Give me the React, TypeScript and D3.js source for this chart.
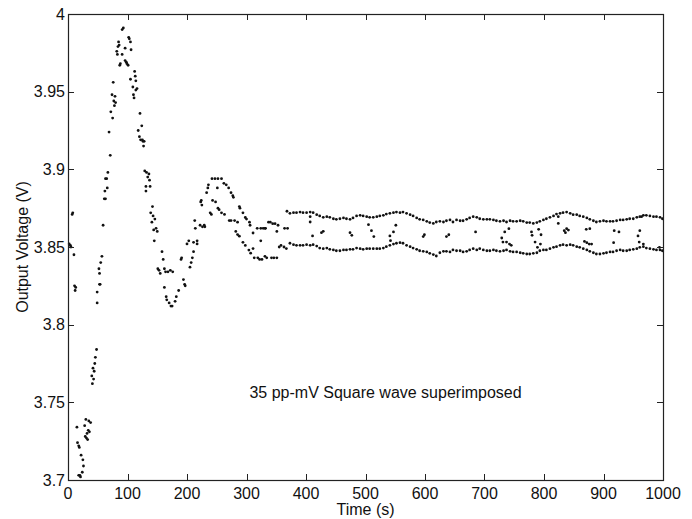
import React from "react";
import * as d3 from "d3";

// ---- axis ticks ----
const xTicks = [0, 100, 200, 300, 400, 500, 600, 700, 800, 900, 1000];
const yTicks = [3.7, 3.75, 3.8, 3.85, 3.9, 3.95, 4];
const yTickLabels = ["3.7", "3.75", "3.8", "3.85", "3.9", "3.95", "4"];

const xLabel = "Time (s)";
const yLabel = "Output Voltage (V)";
const annotation = "35 pp-mV Square wave superimposed";

// ---- start-up transient (time s, voltage V) ----
const startupPoints: [number, number][] = [
  [2, 3.852], [4, 3.851], [5, 3.85], [7, 3.871], [8, 3.872], [10, 3.845], [11, 3.825], [12, 3.822], [13, 3.824],
  [15, 3.734], [16, 3.724], [18, 3.722], [19, 3.721], [18, 3.703], [20, 3.703], [21, 3.702], [22, 3.716], [24, 3.705], [25, 3.713], [26, 3.709],
  [28, 3.735], [29, 3.728], [30, 3.739], [31, 3.727], [32, 3.73], [33, 3.726], [34, 3.732], [35, 3.738], [36, 3.731], [38, 3.737],
  [40, 3.767], [41, 3.762], [42, 3.772], [43, 3.765], [44, 3.77], [45, 3.775], [46, 3.779], [48, 3.784],
  [49, 3.814], [49, 3.821], [53, 3.826], [54, 3.826], [53, 3.833], [55, 3.84], [52, 3.836], [57, 3.844],
  [59, 3.864], [61, 3.881], [63, 3.881], [62, 3.886], [63, 3.894], [65, 3.894], [66, 3.888], [67, 3.898], [69, 3.924], [71, 3.909],
  [72, 3.937], [74, 3.948], [75, 3.933], [76, 3.956], [77, 3.944], [78, 3.941], [79, 3.947], [80, 3.943],
  [82, 3.976], [83, 3.974], [84, 3.979], [85, 3.982], [86, 3.98], [87, 3.967], [88, 3.968], [91, 3.974], [91, 3.99], [93, 3.991],
  [96, 3.978], [96, 3.97], [98, 3.969], [99, 3.968], [101, 3.967], [102, 3.985], [103, 3.984], [105, 3.982], [105, 3.958], [106, 3.977],
  [109, 3.953], [110, 3.948], [111, 3.946], [112, 3.963], [113, 3.96], [114, 3.957], [114, 3.951], [116, 3.952],
  [118, 3.925], [120, 3.921], [121, 3.936], [122, 3.919], [124, 3.928], [125, 3.919], [126, 3.918], [127, 3.915], [128, 3.918],
  [129, 3.899], [131, 3.889], [131, 3.886], [132, 3.898], [134, 3.895], [136, 3.897], [137, 3.893], [138, 3.889],
  [139, 3.872], [141, 3.866], [142, 3.876], [143, 3.87], [144, 3.861], [145, 3.854], [146, 3.868], [148, 3.862], [150, 3.86],
];

// ---- settling (undershoot / overshoot) ----
const settlingPoints: [number, number][] = [
  [151, 3.836], [153, 3.835], [155, 3.833], [158, 3.847], [160, 3.842], [162, 3.836], [162, 3.824], [164, 3.834], [165, 3.818],
  [166, 3.816], [168, 3.834], [170, 3.814], [172, 3.835], [173, 3.812], [175, 3.812], [176, 3.834], [180, 3.815], [182, 3.818],
  [186, 3.822], [190, 3.842], [191, 3.843], [194, 3.829], [196, 3.826], [197, 3.825], [200, 3.852], [203, 3.854], [205, 3.837],
  [207, 3.84], [209, 3.843], [211, 3.853], [211, 3.847], [213, 3.867], [214, 3.862], [217, 3.854], [217, 3.852], [222, 3.864],
  [223, 3.879], [224, 3.88], [225, 3.877], [226, 3.863], [229, 3.864], [230, 3.863], [233, 3.885], [235, 3.888], [236, 3.89],
  [239, 3.872], [241, 3.871], [242, 3.894], [243, 3.88], [247, 3.894], [248, 3.879], [251, 3.888], [252, 3.894], [252, 3.875],
  [254, 3.874], [258, 3.894], [258, 3.872], [262, 3.891], [263, 3.871], [266, 3.89], [270, 3.888], [271, 3.867], [274, 3.867],
  [274, 3.885], [277, 3.883], [278, 3.882], [280, 3.867], [282, 3.86], [285, 3.866], [285, 3.858], [288, 3.857], [288, 3.876],
  [289, 3.875], [294, 3.872], [294, 3.853], [298, 3.869], [298, 3.851], [300, 3.868], [304, 3.848], [305, 3.866], [306, 3.864],
  [307, 3.846], [311, 3.849], [311, 3.859], [313, 3.843], [318, 3.862], [319, 3.843], [322, 3.842], [324, 3.854], [324, 3.862],
  [326, 3.842], [328, 3.862], [331, 3.862], [331, 3.844], [332, 3.862], [334, 3.843], [337, 3.866], [340, 3.866], [342, 3.843],
  [344, 3.865], [346, 3.843], [348, 3.865], [351, 3.843], [351, 3.86], [353, 3.864], [355, 3.85], [358, 3.851], [363, 3.85],
  [364, 3.862], [367, 3.849], [368, 3.873], [369, 3.862],
];

// ---- steady state: the two square-wave levels ----
const bandTime = [
  373, 379, 384, 390, 395, 401, 407, 412, 418, 423, 429, 435, 440, 446, 451, 457, 463, 468, 474, 479,
  485, 491, 496, 502, 507, 513, 519, 524, 530, 535, 541, 547, 552, 558, 563, 569, 575, 580, 586, 591,
  597, 603, 608, 614, 619, 625, 631, 636, 642, 647, 653, 659, 664, 670, 675, 681, 687,
  692, 698, 704, 709, 715, 720, 726, 732, 737, 743, 748, 754, 760, 765, 771, 776, 782, 788, 793, 799,
  804, 810, 816, 821, 827, 832, 838, 844, 849, 855, 860, 866, 872, 877, 883, 888, 894, 900, 905, 911,
  916, 922, 928, 933, 939, 944, 950, 956, 961, 967, 972, 978, 984, 989, 995, 999,
];
const upperLevel = [
  3.8717, 3.8721, 3.8721, 3.8725, 3.8721, 3.8721, 3.8725, 3.8721, 3.8708, 3.87, 3.8691, 3.8695, 3.8691, 3.8682, 3.8678, 3.8682,
  3.8687, 3.8682, 3.8678, 3.8687, 3.87, 3.8704, 3.87, 3.8695, 3.8691, 3.8691, 3.8695, 3.87, 3.8704, 3.8712, 3.8717, 3.8721,
  3.8725, 3.8721, 3.8725, 3.8717, 3.8708, 3.87, 3.8687, 3.8678, 3.8674, 3.8665, 3.8657, 3.8652, 3.8661, 3.8665, 3.8661, 3.8669,
  3.8674, 3.8661, 3.8674, 3.8669, 3.8669, 3.8678, 3.8687, 3.8695, 3.8691,
  3.8682, 3.8678, 3.8678, 3.8678, 3.8674, 3.8669, 3.8665, 3.8669, 3.8661, 3.8669, 3.8665, 3.8665, 3.8669, 3.8665, 3.8657, 3.8657,
  3.8652, 3.8657, 3.8665, 3.8674, 3.8682, 3.8691, 3.87, 3.8712, 3.8717, 3.8721, 3.8725, 3.8717, 3.8708, 3.8708, 3.87, 3.8695,
  3.8687, 3.8678, 3.8669, 3.8661, 3.8665, 3.8669, 3.8665, 3.8665, 3.8665, 3.8669, 3.8674, 3.8674, 3.8678, 3.8682, 3.8682, 3.8691,
  3.8695, 3.8704, 3.8704, 3.87, 3.8695, 3.8695, 3.8691, 3.8682,
];
const lowerLevel = [
  3.8524, 3.8515, 3.8511, 3.8511, 3.8511, 3.8515, 3.8511, 3.8515, 3.8506, 3.8493, 3.8489, 3.8493, 3.8485, 3.8481, 3.8476, 3.8476,
  3.8481, 3.8481, 3.8485, 3.8485, 3.8493, 3.8489, 3.8485, 3.8489, 3.8489, 3.8489, 3.8489, 3.8489, 3.8493, 3.8502, 3.8511, 3.8519,
  3.8524, 3.8528, 3.8524, 3.8511, 3.8502, 3.8493, 3.8485, 3.8476, 3.8472, 3.8468, 3.8459, 3.8451, 3.8442, 3.8463, 3.8472, 3.8472,
  3.8468, 3.8481, 3.8476, 3.8476, 3.8468, 3.8472, 3.8481, 3.8489, 3.8481,
  3.8489, 3.8481, 3.8476, 3.8476, 3.8481, 3.8476, 3.8472, 3.8476, 3.8481, 3.8472, 3.8468, 3.8468, 3.8463, 3.8459, 3.8455, 3.8455,
  3.8459, 3.8463, 3.8476, 3.8481, 3.8481, 3.8489, 3.8498, 3.8502, 3.8511, 3.8515, 3.8511, 3.8515, 3.8511, 3.8502, 3.8498, 3.8489,
  3.8481, 3.8472, 3.8463, 3.8455, 3.8455, 3.8459, 3.8463, 3.8468, 3.8468, 3.8476, 3.8481, 3.8476, 3.8476, 3.8481, 3.8485, 3.8489,
  3.8498, 3.8502, 3.8493, 3.8489, 3.8485, 3.8481, 3.8481, 3.8476,
];

// ---- samples caught during the square-wave edges ----
const switchPoints: [number, number][] = [
  [407, 3.8695], [407, 3.8661], [411, 3.8571], [426, 3.8592], [429, 3.8601], [474, 3.8592], [477, 3.8575], [505, 3.8644],
  [510, 3.8605], [514, 3.8567], [541, 3.8571], [542, 3.8541], [547, 3.8597], [551, 3.864], [597, 3.8567], [599, 3.8579],
  [636, 3.8567], [640, 3.8579], [685, 3.8597], [729, 3.8558], [734, 3.8597], [731, 3.8532], [737, 3.8532], [741, 3.8618],
  [742, 3.8519], [745, 3.8511], [779, 3.8597], [780, 3.8575], [785, 3.8532], [789, 3.8498], [791, 3.8614], [795, 3.8579],
  [794, 3.8519], [824, 3.8695], [824, 3.8652], [834, 3.8605], [838, 3.8618], [841, 3.8609], [836, 3.8592], [868, 3.8536],
  [872, 3.8528], [871, 3.8614], [877, 3.8618], [876, 3.8519], [880, 3.8519], [917, 3.8528], [918, 3.8605], [926, 3.8597],
  [958, 3.8571], [961, 3.8605], [964, 3.8695], [960, 3.8532], [967, 3.8519], [994, 3.8498],
];

const FONT = "'Liberation Sans', Arial, Helvetica, sans-serif";

export default function App() {
  const W = 692;
  const H = 519;
  const left = 68, right = 663, top = 14, bottom = 480;
  const x = d3.scaleLinear().domain([0, 1000]).range([left, right]);
  const y = d3.scaleLinear().domain([3.7, 4]).range([bottom, top]);
  const tickLen = 6;
  const fs = 16;

  const allPoints: [number, number][] = [
    ...startupPoints,
    ...settlingPoints,
    ...bandTime.map((t, i) => [t, upperLevel[i]] as [number, number]),
    ...bandTime.map((t, i) => [t, lowerLevel[i]] as [number, number]),
    ...switchPoints,
  ];

  return (
    <svg
      width={W}
      height={H}
      style={{ position: "absolute", left: 0, top: 0, background: "#fff" }}
      fontFamily={FONT}
    >
      <rect x={0} y={0} width={W} height={H} fill="#fff" />
      {/* data dots */}
      <g fill="#111">
        {allPoints.map(([t, v], i) => (
          <circle key={i} cx={x(t)} cy={y(v)} r={1.4} />
        ))}
      </g>
      {/* frame */}
      <rect
        x={left + 0.5}
        y={top + 0.5}
        width={right - left}
        height={bottom - top}
        fill="none"
        stroke="#222"
        strokeWidth={1.2}
      />
      {/* ticks */}
      <g stroke="#222" strokeWidth={1}>
        {xTicks.map((t) => (
          <g key={"x" + t}>
            <line x1={Math.round(x(t)) + 0.5} x2={Math.round(x(t)) + 0.5} y1={bottom} y2={bottom - tickLen} />
            <line x1={Math.round(x(t)) + 0.5} x2={Math.round(x(t)) + 0.5} y1={top} y2={top + tickLen} />
          </g>
        ))}
        {yTicks.map((v) => (
          <g key={"y" + v}>
            <line x1={left} x2={left + tickLen} y1={Math.round(y(v)) + 0.5} y2={Math.round(y(v)) + 0.5} />
            <line x1={right} x2={right - tickLen} y1={Math.round(y(v)) + 0.5} y2={Math.round(y(v)) + 0.5} />
          </g>
        ))}
      </g>
      {/* tick labels */}
      <g fontSize={fs} fill="#111">
        {xTicks.map((t) => (
          <text key={"xl" + t} x={x(t)} y={499} textAnchor="middle">
            {String(t)}
          </text>
        ))}
        {yTicks.map((v, i) => (
          <text key={"yl" + v} x={65} y={y(v)} dy="0.36em" textAnchor="end">
            {yTickLabels[i]}
          </text>
        ))}
      </g>
      {/* axis labels */}
      <text x={(left + right) / 2} y={515} textAnchor="middle" fontSize={fs} fill="#111">
        {xLabel}
      </text>
      <text
        transform={`translate(28, ${(top + bottom) / 2}) rotate(-90)`}
        textAnchor="middle"
        fontSize={fs}
        fill="#111"
      >
        {yLabel}
      </text>
      {/* annotation */}
      <text x={x(305)} y={398} textAnchor="start" fontSize={fs} fill="#111">
        {annotation}
      </text>
    </svg>
  );
}
